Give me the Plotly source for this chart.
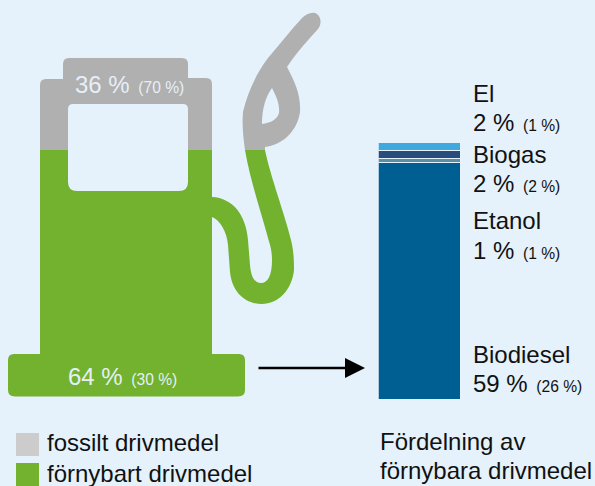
import plotly.graph_objects as go

# ---- data ----
fuel_names = ["fossilt drivmedel", "förnybart drivmedel"]
fuel_now = [36, 64]
fuel_then = [70, 30]
renewable_names = ["Biodiesel", "Etanol", "Biogas", "El"]
renewable_now = [59, 1, 2, 2]
renewable_then = [26, 1, 2, 1]
caption = ["Fördelning av", "förnybara drivmedel"]

# ---- styles ----
W, H = 595, 486
BG = "#e5f2fb"
GREY = "#b0b0b0"
GREEN = "#72b22f"
LEGEND_GREY = "#cccccc"
RENEW_COLORS = ["#005f92", "#5b8fa8", "#2a4c7d", "#3fa9de"]
FONT = "Liberation Sans"
TEXT = "#111111"
LIGHT = "#e6eff6"


def label(now, then):
    return f"{now} %<span style='font-size:15.6px'>&nbsp;&nbsp;({then} %)</span>"


fig = go.Figure()

# stacked column, scaled by its own axes
for name, now, col in zip(renewable_names, renewable_now, RENEW_COLORS):
    fig.add_trace(go.Bar(
        x=["andel"], y=[now], name=name, xaxis="x2", yaxis="y2",
        marker=dict(color=col, line=dict(color=BG, width=1.5)),
        width=1, showlegend=False, hoverinfo="name+y",
    ))

# pump artwork on a page-pixel axis
grey_body = ("M40,150 L40,85 Q40,79 46,79 L63,79 L63,64 Q63,58 69,58 L182,58 Q188,58 188,64 "
             "L188,78 L206,78 Q212,78 212,84 L212,150 L188,150 L188,109 Q188,104 183,104 "
             "L73,104 Q68,104 68,109 L68,150 Z")
green_body = ("M40,150 L68,150 L68,182 Q68,191 77,191 L179,191 Q188,191 188,182 L188,150 L212,150 "
              "L212,354 L239,354 Q245,354 245,360 L245,390 Q245,396.5 238,396.5 L15,396.5 "
              "Q8,396.5 8,390 L8,360 Q8,354 14,354 L40,354 Z")
green_hose = ("M212,197 C233,198 246,215 248,240 L250,265 C251,276 254,283 261,283 C268,283 272,275 272,260 "
              "C272,250 270,245 268,238 C262,215 250,180 245,150 L265,150 C270,175 285,215 291,240 "
              "C294,252 294,262 294,270 C292,290 278,304 262,304 C245,304 232,292 230,272 "
              "L228,245 C227,232 220,220 212,217 Z")
grey_hose = ("M245,150 C243,135 242,125 243,112 C247,95 255,75 268,58 C280,44 291,30 302,18 "
             "C306,14 313,11 317,14 C321,17 322,24 318,29 C308,40 297,52 287,67 "
             "C295,82 301,95 300,112 C297,132 282,145 265,147 L265,150 Z "
             "M272,88 C266,96 262,108 262,124 C270,123 277,120 279,113 C280,104 276,96 272,88 Z")

shapes = [
    dict(type="path", path=grey_body, fillcolor=GREY),
    dict(type="path", path=green_body, fillcolor=GREEN),
    dict(type="path", path=green_hose, fillcolor=GREEN),
    dict(type="path", path=grey_hose, fillcolor=GREY),
    dict(type="rect", x0=16, x1=39, y0=433, y1=456, fillcolor=LEGEND_GREY),
    dict(type="rect", x0=16, x1=39, y0=463, y1=486, fillcolor=GREEN),
]
for s in shapes:
    s.update(xref="x", yref="y", line=dict(width=0), layer="below")


def note(x, y, text, size=24, color=TEXT):
    return dict(x=x, y=y, xref="x", yref="y", text=text, showarrow=False,
                xanchor="left", yanchor="middle", align="left",
                font=dict(family=FONT, size=size, color=color))


annotations = [
    note(73, 84.5, label(fuel_now[0], fuel_then[0]), color=LIGHT),
    note(66, 376.5, label(fuel_now[1], fuel_then[1]), color=LIGHT),
    note(45, 442.5, fuel_names[0]),
    note(45, 473, fuel_names[1]),
    note(471, 93, renewable_names[3], 24),
    note(471, 122, label(renewable_now[3], renewable_then[3])),
    note(471, 154, renewable_names[2], 24),
    note(471, 183, label(renewable_now[2], renewable_then[2])),
    note(471, 220, renewable_names[1], 24),
    note(471, 250, label(renewable_now[1], renewable_then[1])),
    note(471, 354, renewable_names[0], 24),
    note(471, 383, label(renewable_now[0], renewable_then[0])),
    note(378, 441, caption[0], 24),
    note(378, 470.5, caption[1], 24),
    dict(x=365, y=368, ax=257, ay=368, xref="x", yref="y", axref="x", ayref="y",
         text="", showarrow=True, arrowhead=2, arrowsize=1.6, arrowwidth=2.5, arrowcolor="#000000"),
]

fig.update_layout(
    width=W, height=H, margin=dict(l=0, r=0, t=0, b=0),
    paper_bgcolor=BG, plot_bgcolor="rgba(0,0,0,0)",
    barmode="stack", bargap=0,
    shapes=shapes, annotations=annotations,
    xaxis=dict(range=[0, W], domain=[0, 1], visible=False, fixedrange=True),
    yaxis=dict(range=[H, 0], domain=[0, 1], visible=False, fixedrange=True),
    xaxis2=dict(domain=[378.5 / W, 461.5 / W], range=[-0.5, 0.5], visible=False,
                anchor="y2", fixedrange=True),
    yaxis2=dict(domain=[(H - 399.5) / H, (H - 143) / H], range=[0, 64], visible=False,
                anchor="x2", fixedrange=True),
)

fig.add_trace(go.Scatter(x=[0], y=[0], xaxis="x", yaxis="y", mode="markers",
                         marker=dict(opacity=0), showlegend=False, hoverinfo="skip"))

fig.write_html("out.html", config={"displayModeBar": False},
               post_script="document.body.style.margin='0';")
